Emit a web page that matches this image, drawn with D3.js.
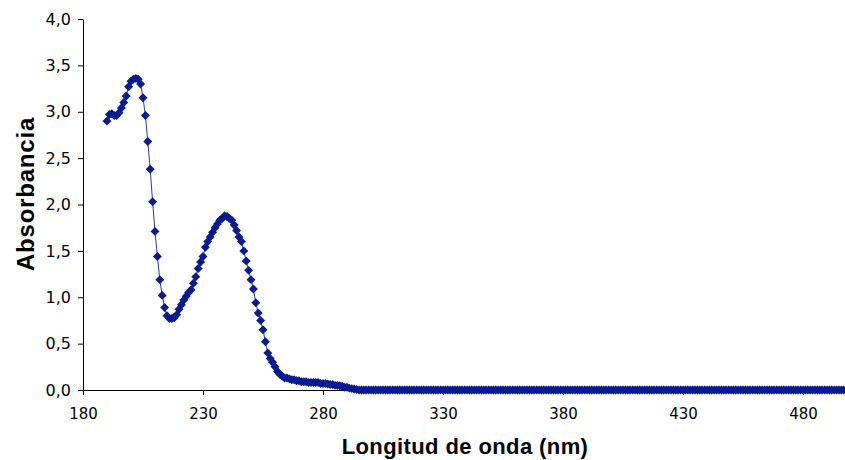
<!DOCTYPE html>
<html><head><meta charset="utf-8">
<script src="https://cdn.jsdelivr.net/npm/d3@7"></script>
<style>html,body{margin:0;padding:0;background:#fff}svg{display:block}</style>
</head><body>
<svg id="chart" width="845" height="460"></svg>
<script>
const wavelengths = [
190,191,192,193,194,195,196,197,198,199,
200,201,202,203,204,205,206,207,208,209,
210,211,212,213,214,215,216,217,218,219,
220,221,222,223,224,225,226,227,228,229,
230,231,232,233,234,235,236,237,238,239,
240,241,242,243,244,245,246,247,248,249,
250,251,252,253,254,255,256,257,258,259,
260,261,262,263,264,265,266,267,268,269,
270,271,272,273,274,275,276,277,278,279,
280,281,282,283,284,285,286,287,288,289,
290,291,292,293,294,295,296,297,298,299,
300,301,302,303,304,305,306,307,308,309,
310,311,312,313,314,315,316,317,318,319,
320,321,322,323,324,325,326,327,328,329,
330,331,332,333,334,335,336,337,338,339,
340,341,342,343,344,345,346,347,348,349,
350,351,352,353,354,355,356,357,358,359,
360,361,362,363,364,365,366,367,368,369,
370,371,372,373,374,375,376,377,378,379,
380,381,382,383,384,385,386,387,388,389,
390,391,392,393,394,395,396,397,398,399,
400,401,402,403,404,405,406,407,408,409,
410,411,412,413,414,415,416,417,418,419,
420,421,422,423,424,425,426,427,428,429,
430,431,432,433,434,435,436,437,438,439,
440,441,442,443,444,445,446,447,448,449,
450,451,452,453,454,455,456,457,458,459,
460,461,462,463,464,465,466,467,468,469,
470,471,472,473,474,475,476,477,478,479,
480,481,482,483,484,485,486,487,488,489,
490,491,492,493,494,495,496,497,498,499,
500];
const absorbance = [
2.90,2.97,2.98,2.96,2.96,2.99,3.04,3.10,3.17,3.27,
3.33,3.35,3.36,3.35,3.30,3.15,2.96,2.68,2.38,2.03,
1.71,1.44,1.19,1.02,0.89,0.80,0.77,0.77,0.78,0.81,
0.87,0.92,0.97,1.01,1.05,1.08,1.15,1.22,1.31,1.38,
1.44,1.54,1.60,1.65,1.70,1.75,1.79,1.83,1.85,1.88,
1.87,1.85,1.83,1.78,1.72,1.65,1.60,1.50,1.39,1.29,
1.19,1.09,0.94,0.83,0.75,0.65,0.52,0.40,0.34,0.30,
0.25,0.20,0.17,0.15,0.13,0.13,0.12,0.11,0.11,0.10,
0.10,0.09,0.09,0.09,0.08,0.08,0.08,0.08,0.08,0.07,
0.07,0.07,0.065,0.06,0.06,0.05,0.05,0.045,0.04,0.03,
0.03,0.02,0.015,0.01,0.005,0,0,0,0,0,
0,0,0,0,0,0,0,0,0,0,
0,0,0,0,0,0,0,0,0,0,
0,0,0,0,0,0,0,0,0,0,
0,0,0,0,0,0,0,0,0,0,
0,0,0,0,0,0,0,0,0,0,
0,0,0,0,0,0,0,0,0,0,
0,0,0,0,0,0,0,0,0,0,
0,0,0,0,0,0,0,0,0,0,
0,0,0,0,0,0,0,0,0,0,
0,0,0,0,0,0,0,0,0,0,
0,0,0,0,0,0,0,0,0,0,
0,0,0,0,0,0,0,0,0,0,
0,0,0,0,0,0,0,0,0,0,
0,0,0,0,0,0,0,0,0,0,
0,0,0,0,0,0,0,0,0,0,
0,0,0,0,0,0,0,0,0,0,
0,0,0,0,0,0,0,0,0,0,
0,0,0,0,0,0,0,0,0,0,
0,0,0,0,0,0,0,0,0,0,
0,0,0,0,0,0,0,0,0,0,
0];
const xTicks = [180, 230, 280, 330, 380, 430, 480];
const yTicks = [0, 0.5, 1.0, 1.5, 2.0, 2.5, 3.0, 3.5, 4.0];
const xTitle = "Longitud de onda (nm)";
const yTitle = "Absorbancia";

const svg = d3.select("#chart");
const x = d3.scaleLinear().domain([180, 500]).range([83, 851]);
const y = d3.scaleLinear().domain([0, 4]).range([390, 19]);

const tickFont = "'DejaVu Sans', sans-serif";

const gx = svg.append("g").attr("transform", "translate(0,390)")
  .call(d3.axisBottom(x).tickValues(xTicks).tickSizeInner(5).tickSizeOuter(0).tickPadding(13).tickFormat(d3.format("d")));
const gy = svg.append("g").attr("transform", "translate(83,0)")
  .call(d3.axisLeft(y).tickValues(yTicks).tickSizeInner(5).tickSizeOuter(0).tickPadding(7)
    .tickFormat(d => d.toFixed(1).replace(".", ",")));
[gx, gy].forEach(g => {
  g.select(".domain").attr("stroke", "#000").attr("stroke-width", 1);
  g.selectAll(".tick line").attr("stroke", "#000");
  g.selectAll(".tick text").attr("fill", "#000").style("font-family", tickFont).style("font-size", "15px");
});
gy.selectAll(".tick text").style("font-size", "16px");

const pts = wavelengths.map((w, i) => ({w, a: absorbance[i]}));
const line = d3.line().x(d => x(d.w)).y(d => y(d.a));
svg.append("path").datum(pts).attr("d", line)
  .attr("fill", "none").attr("stroke", "#2a3aa0").attr("stroke-width", 1);

const sym = d3.symbol().type(d3.symbolSquare).size(40);
svg.append("g").selectAll("path").data(pts).join("path")
  .attr("d", sym)
  .attr("transform", d => `translate(${x(d.w)},${y(d.a)}) rotate(45)`)
  .attr("fill", "#0a1a8f");

svg.append("text").attr("x", 465).attr("y", 454).attr("text-anchor", "middle")
  .style("font-family", "'Liberation Sans', Arial, sans-serif").style("font-weight", "bold")
  .style("font-size", "22px").style("letter-spacing", "0.4px").text(xTitle);
svg.append("text").attr("transform", "translate(34,194) rotate(-90)").attr("text-anchor", "middle")
  .style("font-family", "'Liberation Sans', Arial, sans-serif").style("font-weight", "bold")
  .style("font-size", "24px").style("letter-spacing", "0.8px").text(yTitle);
</script>
</body></html>
